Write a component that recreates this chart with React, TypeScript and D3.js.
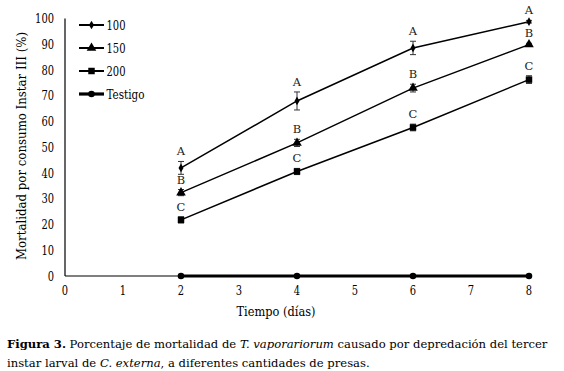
import React, { useEffect, useRef } from 'react';
import * as d3 from 'd3';

const days = [2, 4, 6, 8];
const seriesNames = ['100', '150', '200', 'Testigo'];
const v100 = [42, 68, 88.6, 98.8];
const v150 = [32.4, 51.7, 73, 89.9];
const v200 = [21.8, 40.6, 57.7, 76.3];
const vTestigo = [0, 0, 0, 0];
const e100 = [2.5, 3.5, 2.6, 0.5];
const e150 = [1.2, 1.4, 1.5, 0.5];
const e200 = [1.2, 1.2, 1.3, 1.5];
const l100 = ['A', 'A', 'A', 'A'];
const l150 = ['B', 'B', 'B', 'B'];
const l200 = ['C', 'C', 'C', 'C'];
const xTicks = [0, 1, 2, 3, 4, 5, 6, 7, 8];
const yTicks = [0, 10, 20, 30, 40, 50, 60, 70, 80, 90, 100];

const App: React.FC = () => {
  const ref = useRef<SVGSVGElement>(null);

  useEffect(() => {
    if (!ref.current) return;
    const svg = d3.select(ref.current);
    svg.selectAll('*').remove();

    const serif = 'DejaVu Serif';
    const digitW = 6.3;
    const x = d3.scaleLinear().domain([0, 8]).range([65, 529]);
    const y = d3.scaleLinear().domain([0, 100]).range([276, 18.6]);

    svg.append('rect').attr('width', 564).attr('height', 371).attr('fill', '#fff');

    // ejes
    svg.append('line')
      .attr('x1', x(0)).attr('x2', x(0)).attr('y1', y(100)).attr('y2', y(0))
      .attr('stroke', '#000').attr('stroke-width', 1.2);
    svg.append('line')
      .attr('x1', x(0)).attr('x2', x(8) + 2).attr('y1', y(0)).attr('y2', y(0))
      .attr('stroke', '#000').attr('stroke-width', 1.2);

    svg.append('g').selectAll('text').data(yTicks).enter().append('text')
      .attr('x', 54).attr('y', d => y(d) + 4.5)
      .attr('text-anchor', 'end')
      .attr('font-family', serif).attr('font-size', 12)
      .attr('textLength', d => String(d).length * digitW)
      .attr('lengthAdjust', 'spacingAndGlyphs')
      .text(d => d);

    svg.append('g').selectAll('text').data(xTicks).enter().append('text')
      .attr('x', d => x(d)).attr('y', 295)
      .attr('text-anchor', 'middle')
      .attr('font-family', serif).attr('font-size', 12)
      .attr('textLength', digitW)
      .attr('lengthAdjust', 'spacingAndGlyphs')
      .text(d => d);

    svg.append('text')
      .attr('transform', 'translate(25.5,146) rotate(-90)')
      .attr('text-anchor', 'middle')
      .attr('font-family', serif).attr('font-size', 13)
      .attr('textLength', 228).attr('lengthAdjust', 'spacingAndGlyphs')
      .text('Mortalidad por consumo Instar III (%)');

    svg.append('text')
      .attr('x', 276).attr('y', 316)
      .attr('text-anchor', 'middle')
      .attr('font-family', serif).attr('font-size', 13)
      .attr('textLength', 79).attr('lengthAdjust', 'spacingAndGlyphs')
      .text('Tiempo (días)');

    const symbols = [d3.symbolDiamond, d3.symbolTriangle, d3.symbolSquare, d3.symbolCircle];
    const sizes = [22, 40, 42, 34];
    const widths = [1.5, 1.5, 1.5, 3.2];
    const values = [v100, v150, v200, vTestigo];
    const errors = [e100, e150, e200, [0, 0, 0, 0]];
    const letters = [l100, l150, l200, null];

    const line = d3.line<number>().x((_, i) => x(days[i])).y(d => y(d));

    values.forEach((vals, s) => {
      const g = svg.append('g');
      g.append('path')
        .attr('d', line(vals) || '')
        .attr('fill', 'none').attr('stroke', '#000').attr('stroke-width', widths[s]);

      // barras de error
      const err = errors[s];
      vals.forEach((v, i) => {
        if (err[i] <= 0) return;
        const cx = x(days[i]);
        g.append('line').attr('x1', cx).attr('x2', cx)
          .attr('y1', y(v - err[i])).attr('y2', y(v + err[i]))
          .attr('stroke', '#333').attr('stroke-width', 1);
        [v - err[i], v + err[i]].forEach(e => {
          g.append('line').attr('x1', cx - 3).attr('x2', cx + 3)
            .attr('y1', y(e)).attr('y2', y(e))
            .attr('stroke', '#333').attr('stroke-width', 1);
        });
      });

      g.selectAll('path.m').data(vals).enter().append('path')
        .attr('class', 'm')
        .attr('d', d3.symbol().type(symbols[s]).size(sizes[s])())
        .attr('transform', (d, i) => `translate(${x(days[i])},${y(d)})`)
        .attr('fill', '#000');

      const lab = letters[s];
      if (lab) {
        g.selectAll('text').data(vals).enter().append('text')
          .attr('x', (_, i) => x(days[i]))
          .attr('y', (d, i) => y(d + err[i]) - 6)
          .attr('text-anchor', 'middle')
          .attr('fill', '#222')
          .attr('font-family', serif).attr('font-size', 11.5)
          .text((_, i) => lab[i]);
      }
    });

    // leyenda
    const lg = svg.append('g');
    seriesNames.forEach((name, s) => {
      const ly = 25 + s * 23;
      lg.append('line').attr('x1', 79).attr('x2', 104).attr('y1', ly).attr('y2', ly)
        .attr('stroke', '#000').attr('stroke-width', s === 3 ? 3.2 : 2);
      lg.append('path')
        .attr('d', d3.symbol().type(symbols[s]).size(sizes[s])())
        .attr('transform', `translate(91.5,${ly})`)
        .attr('fill', '#000');
      lg.append('text').attr('x', 106.5).attr('y', ly + 4.5)
        .attr('font-family', serif).attr('font-size', 12)
        .attr('textLength', s === 3 ? 38 : 19).attr('lengthAdjust', 'spacingAndGlyphs')
        .text(name);
    });

    // pie de figura
    const cap = svg.append('g').attr('font-family', serif).attr('font-size', 11.6);
    const t1 = cap.append('text').attr('x', 7).attr('y', 348);
    t1.append('tspan').attr('font-weight', 'bold').text('Figura 3.');
    t1.append('tspan').text(' Porcentaje de mortalidad de ');
    t1.append('tspan').attr('font-style', 'italic').text('T. vaporariorum');
    t1.append('tspan').text(' causado por depredación del tercer');
    const t2 = cap.append('text').attr('x', 7).attr('y', 367);
    t2.append('tspan').text('instar larval de ');
    t2.append('tspan').attr('font-style', 'italic').text('C. externa');
    t2.append('tspan').text(', a diferentes cantidades de presas.');
  }, []);

  return (
    <svg ref={ref} width={564} height={371}
      style={{ position: 'absolute', left: 0, top: 0, display: 'block' }} />
  );
};

export default App;
